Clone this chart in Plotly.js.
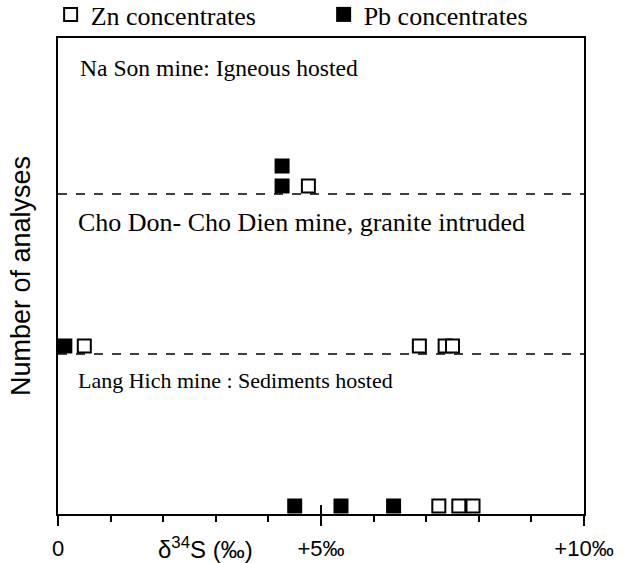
<!DOCTYPE html>
<html>
<head>
<meta charset="utf-8">
<script src="https://cdn.plot.ly/plotly-3.0.1.min.js"></script>
<style>html,body{margin:0;padding:0;background:#fff;}#chart{width:623px;height:563px;}</style>
</head>
<body>
<div id="chart"></div>
<script>
// ---- data (delta34S values in permil) ----
const mineLabels = ["Lang Hich mine : Sediments hosted", "Cho Don- Cho Dien mine, granite intruded", "Na Son mine: Igneous hosted"];
const znLangHich = [7.24, 7.62, 7.89];
const pbLangHich = [4.50, 5.38, 6.38];
const znChoDon = [0.50, 6.87, 7.36, 7.50];
const pbChoDon = [0.13];
const znNaSon = [4.76];
const pbNaSon = [4.26, 4.26];
const xTickVals = [0, 5, 10];
const xTickText = ["0", "+5‰", "+10‰"];
const seriesNames = ["Zn concentrates", "Pb concentrates"];

// each mine occupies one band of the "number of analyses" axis
const bandHeight = 8;
const firstLevel = 0.4;

function stack(values, band) {
  const xs = [], ys = [];
  const seen = {};
  values.forEach(v => {
    const k = v.toFixed(2);
    const lvl = seen[k] || 0;
    seen[k] = lvl + 1;
    xs.push(v);
    ys.push(band * bandHeight + firstLevel + lvl);
  });
  return {xs, ys};
}
function combine(groups) {
  const out = {xs: [], ys: []};
  groups.forEach(([vals, band]) => {
    const s = stack(vals, band);
    out.xs.push(...s.xs); out.ys.push(...s.ys);
  });
  return out;
}
const zn = combine([[znLangHich, 0], [znChoDon, 1], [znNaSon, 2]]);
const pb = combine([[pbLangHich, 0], [pbChoDon, 1], [pbNaSon, 2]]);

const serif = "'Liberation Serif', 'Times New Roman', serif";
const sans = "'Liberation Sans', Arial, sans-serif";

const traces = [
  {x: zn.xs, y: zn.ys, name: seriesNames[0], type: "scatter", mode: "markers", cliponaxis: false,
   marker: {symbol: "square", size: 13, color: "#fff", line: {color: "#000", width: 2}}},
  {x: pb.xs, y: pb.ys, name: seriesNames[1], type: "scatter", mode: "markers", cliponaxis: false,
   marker: {symbol: "square", size: 15, color: "#000", line: {color: "#000", width: 0}}}
];

const yTop = 23.8;
const labelY = [6.7, 14.6, 22.3];
const labelX = [0.34, 0.34, 0.38];
const labelSize = [22, 26, 23.6];
const annotations = mineLabels.map((t, i) => ({
  text: t, x: labelX[i], y: labelY[i], xref: "x", yref: "y", xanchor: "left", yanchor: "middle",
  showarrow: false, font: {family: serif, size: labelSize[i], color: "#000"}
}));
annotations.push({
  text: "δ<sup>34</sup>S (‰)", x: 2.8, y: -34 / 476, xref: "x", yref: "paper", xanchor: "center", yanchor: "middle",
  showarrow: false, font: {family: sans, size: 24, color: "#000"}
});

const shapes = [1, 2].map(b => ({
  type: "line", xref: "paper", x0: 0, x1: 1, yref: "y", y0: b * bandHeight, y1: b * bandHeight,
  line: {color: "#000", width: 1.5, dash: "dash"}
}));
shapes.push({type: "line", xref: "x", x0: 5, x1: 5, yref: "paper", y0: 0, y1: 9 / 476, line: {color: "#000", width: 2}});

const layout = {
  width: 623, height: 563,
  margin: {l: 58, r: 39, t: 38, b: 49, autoexpand: false},
  paper_bgcolor: "#fff", plot_bgcolor: "#fff",
  showlegend: true,
  legend: {orientation: "h", x: -0.014, xanchor: "left", y: 1.0, yanchor: "bottom",
           font: {family: serif, size: 26, color: "#000"}, entrywidth: 228, entrywidthmode: "pixels",
           itemclick: false, bgcolor: "rgba(0,0,0,0)"},
  xaxis: {range: [0, 10], showgrid: false, zeroline: false, showline: true, mirror: true,
          linecolor: "#000", linewidth: 2, ticks: "outside", ticklen: 10, tickwidth: 2, tickcolor: "#000",
          tickvals: xTickVals, ticktext: xTickText, ticklabelstandoff: 4,
          tickfont: {family: sans, size: 22, color: "#000"},
          minor: {dtick: 1, tick0: 0, ticks: "outside", ticklen: 6, tickwidth: 2, tickcolor: "#000"}},
  yaxis: {range: [0, yTop], showgrid: false, zeroline: false, showline: true, mirror: true,
          linecolor: "#000", linewidth: 2, ticks: "", showticklabels: false,
          title: {text: "Number of analyses", standoff: 18, font: {family: sans, size: 27, color: "#000"}}},
  annotations: annotations,
  shapes: shapes
};

Plotly.newPlot("chart", traces, layout, {staticPlot: true, displayModeBar: false});
</script>
</body>
</html>
